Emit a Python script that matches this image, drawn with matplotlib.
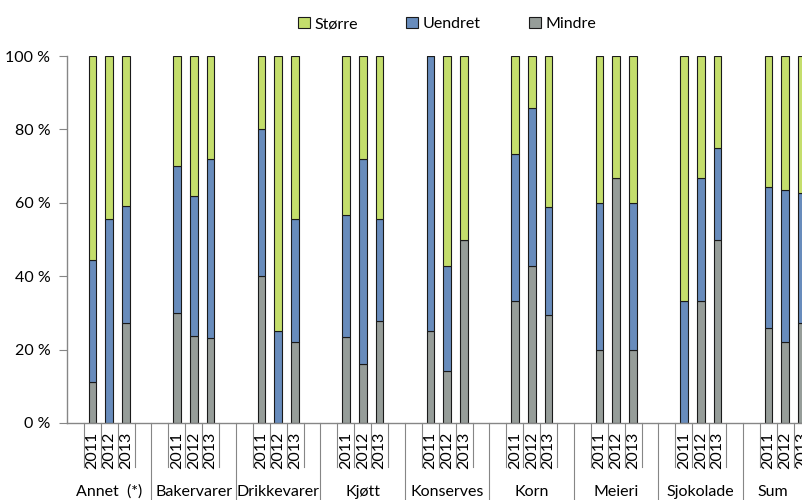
import numpy as np
import matplotlib.pyplot as plt

plt.rcParams['font.family'] = ['Lato', 'DejaVu Sans']

categories = ['Annet  (*)', 'Bakervarer', 'Drikkevarer', 'Kjøtt', 'Konserves',
              'Korn', 'Meieri', 'Sjokolade', 'Sum']
years = ['2011', '2012', '2013']

# share (%) per category, one value per year
mindre = [[11.1, 0.0, 27.3], [30.0, 23.8, 23.1], [40.0, 0.0, 22.2],
          [23.3, 16.0, 27.8], [25.0, 14.3, 50.0], [33.3, 42.9, 29.4],
          [20.0, 66.7, 20.0], [0.0, 33.3, 50.0], [25.8, 22.0, 27.2]]
uendret = [[33.3, 55.6, 31.8], [40.0, 38.1, 48.7], [40.0, 25.0, 33.3],
           [33.4, 56.0, 27.8], [75.0, 28.6, 0.0], [40.0, 42.8, 29.4],
           [40.0, 0.0, 40.0], [33.3, 33.4, 25.0], [38.6, 41.4, 35.6]]
storre = [[55.6, 44.4, 40.9], [30.0, 38.1, 28.2], [20.0, 75.0, 44.5],
          [43.3, 28.0, 44.4], [0.0, 57.1, 50.0], [26.7, 14.3, 41.2],
          [40.0, 33.3, 40.0], [66.7, 33.3, 25.0], [35.6, 36.6, 37.2]]

c_storre = '#C4DE6C'
c_uendret = '#688CBC'
c_mindre = '#969D99'
axis_col = '#868686'

fig = plt.figure(figsize=(8.03, 5.0), dpi=100)
# axes runs past the right edge, like the cropped original
ax = fig.add_axes([67 / 803, 1 - 423 / 500, 760.5 / 803, 367 / 500])

n_slots = 5
x = np.array([k * n_slots + i + 1.5 for k in range(len(categories)) for i in range(3)])
m = np.array(mindre).ravel()
u = np.array(uendret).ravel()
s = np.array(storre).ravel()

w = 0.45
kw = dict(width=w, edgecolor='#1a1a1a', linewidth=0.8)
b_m = ax.bar(x, m, color=c_mindre, **kw)
b_u = ax.bar(x, u, bottom=m, color=c_uendret, **kw)
b_s = ax.bar(x, s, bottom=m + u, color=c_storre, **kw)

ax.set_xlim(0, len(categories) * n_slots)
ax.set_ylim(0, 100)
ax.set_yticks(np.arange(0, 101, 20))
ax.set_yticklabels([f'{v} %' for v in range(0, 101, 20)], fontsize=11.5)
ax.tick_params(axis='y', direction='out', length=6, color=axis_col, pad=6)
ax.set_xticks([])
for side in ['top', 'right']:
    ax.spines[side].set_visible(False)
for side in ['left', 'bottom']:
    ax.spines[side].set_color(axis_col)
    ax.spines[side].set_linewidth(1.0)

# visible right end of the axis (in slot units), the last group is cut off
x_visible = (803 - 67) / (760.5 / (len(categories) * n_slots))

# two-level category axis
tr = ax.get_xaxis_transform()
for k, cat in enumerate(categories):
    base = k * n_slots
    for j in range(4):
        ax.plot([base + 1 + j] * 2, [0, -0.12], transform=tr, color=axis_col,
                lw=0.8, clip_on=False)
    for i, yr in enumerate(years):
        ax.text(base + 1.5 + i, -0.074, yr, transform=tr, rotation=90,
                ha='center', va='center', fontsize=11.5)
    ax.plot([base + n_slots] * 2, [0, -0.22], transform=tr, color=axis_col,
            lw=0.8, clip_on=False)
    xc = (base + min(base + n_slots, x_visible)) / 2
    ax.text(xc, -0.188, cat, transform=tr, ha='center',
            va='center', fontsize=11.5)

handles = [b_s, b_u, b_m]
fig.legend(handles, ['Større', 'Uendret', 'Mindre'], loc='center',
           bbox_to_anchor=(0.557, 0.952), ncol=3, frameon=False, fontsize=11.5,
           handlelength=0.75, handleheight=0.75, handletextpad=0.3,
           columnspacing=3.0)

fig.savefig('out.png', dpi=100)
